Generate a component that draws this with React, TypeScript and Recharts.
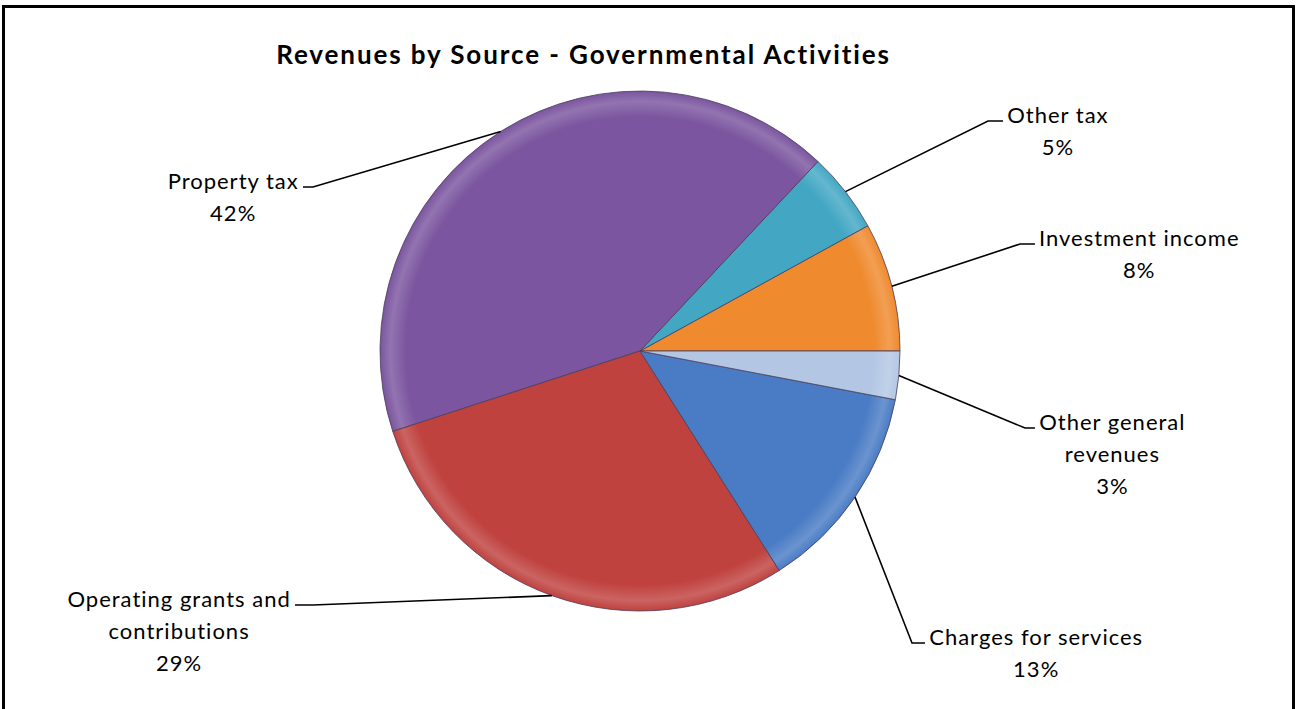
import { Cell, Pie, PieChart } from "recharts";

const categories = [
  "Investment income",
  "Other tax",
  "Property tax",
  "Operating grants and contributions",
  "Charges for services",
  "Other general revenues",
];
const shares = [8, 5, 42, 29, 13, 3];
const labelLines = [
  ["Investment income"],
  ["Other tax"],
  ["Property tax"],
  ["Operating grants and", "contributions"],
  ["Charges for services"],
  ["Other general", "revenues"],
];

const COLORS = ["#EF8A2E", "#43A7C4", "#7B559F", "#BF423F", "#4A7CC5", "#B3C7E4"];

// leader line elbow and tick end, relative to the pie centre
const LABEL_LAYOUT = [
  { ex: 380, ey: -107, hx: 395 },
  { ex: 348, ey: -230, hx: 363 },
  { ex: -327, ey: -164, hx: -337 },
  { ex: -327, ey: 254, hx: -345 },
  { ex: 272, ey: 292, hx: 285 },
  { ex: 385, ey: 77, hx: 395 },
];

const data = categories.map((name, i) => ({ name, value: shares[i] }));

const RADIAN = Math.PI / 180;
const FONT = "Lato, sans-serif";
const LABEL_SIZE = 22;
const LABEL_SPACING = 1;

let ctx: CanvasRenderingContext2D | null = null;
const measure = (t: string) => {
  if (!ctx) ctx = document.createElement("canvas").getContext("2d");
  if (!ctx) return t.length * 11;
  ctx.font = `${LABEL_SIZE}px ${FONT}`;
  return ctx.measureText(t).width + t.length * LABEL_SPACING;
};

const renderLabel = (props: any) => {
  const { cx, cy, midAngle, outerRadius, percent, index } = props;
  const l = LABEL_LAYOUT[index];
  const sx = cx + outerRadius * Math.cos(-midAngle * RADIAN);
  const sy = cy + outerRadius * Math.sin(-midAngle * RADIAN);
  const lines = [...labelLines[index], `${Math.round(percent * 100)}%`];
  const w = Math.max(...lines.map(measure));
  const right = l.hx > 0;
  const tx = cx + l.hx + (right ? 4 + w / 2 : -4 - w / 2);
  return (
    <g>
      <polyline
        points={`${sx},${sy} ${cx + l.ex},${cy + l.ey} ${cx + l.hx},${cy + l.ey}`}
        fill="none"
        stroke="#000"
        strokeWidth={1.6}
      />
      <text
        x={tx}
        y={cy + l.ey + 2}
        textAnchor="middle"
        fontFamily={FONT}
        fontSize={LABEL_SIZE}
        letterSpacing={LABEL_SPACING}
        fill="#000"
      >
        {lines.map((t, i) => (
          <tspan key={i} x={tx} dy={i === 0 ? 0 : 32}>
            {t}
          </tspan>
        ))}
      </text>
    </g>
  );
};

export default function App() {
  return (
    <div
      style={{
        position: "fixed",
        left: 0,
        top: 0,
        width: 1297,
        height: 709,
        background: "#fff",
        overflow: "hidden",
      }}
    >
      <svg width={0} height={0} style={{ position: "absolute" }}>
        <defs>
          {COLORS.map((c, i) => (
            <radialGradient
              key={c}
              id={`slice${i}`}
              gradientUnits="userSpaceOnUse"
              cx={640}
              cy={351}
              r={260}
            >
              <stop offset="0%" stopColor={c} />
              <stop offset="90%" stopColor={c} />
              <stop offset="96%" stopColor={c} stopOpacity={0.82} />
              <stop offset="100%" stopColor={c} />
            </radialGradient>
          ))}
        </defs>
      </svg>
      <div
        style={{
          position: "absolute",
          left: 2,
          top: 5,
          width: 1293,
          height: 730,
          border: "3px solid #000",
          boxSizing: "border-box",
        }}
      />
      <div
        style={{
          position: "absolute",
          left: 0,
          top: 38,
          width: 1167,
          textAlign: "center",
          fontFamily: FONT,
          fontWeight: 700,
          fontSize: 26,
          letterSpacing: 1.9,
          color: "#000",
          whiteSpace: "nowrap",
        }}
      >
        Revenues by Source - Governmental Activities
      </div>
      <div style={{ position: "absolute", left: 0, top: 0 }}>
        <PieChart width={1297} height={709} margin={{ top: 0, right: 0, bottom: 0, left: 0 }}>
          <Pie
            data={data}
            dataKey="value"
            nameKey="name"
            cx={640}
            cy={351}
            outerRadius={260}
            startAngle={0}
            endAngle={360}
            label={renderLabel}
            labelLine={false}
            isAnimationActive={false}
            stroke="#4a3d5a"
            strokeWidth={0.8}
          >
            {data.map((d, i) => (
              <Cell key={d.name} fill={`url(#slice${i})`} />
            ))}
          </Pie>
        </PieChart>
      </div>
    </div>
  );
}
